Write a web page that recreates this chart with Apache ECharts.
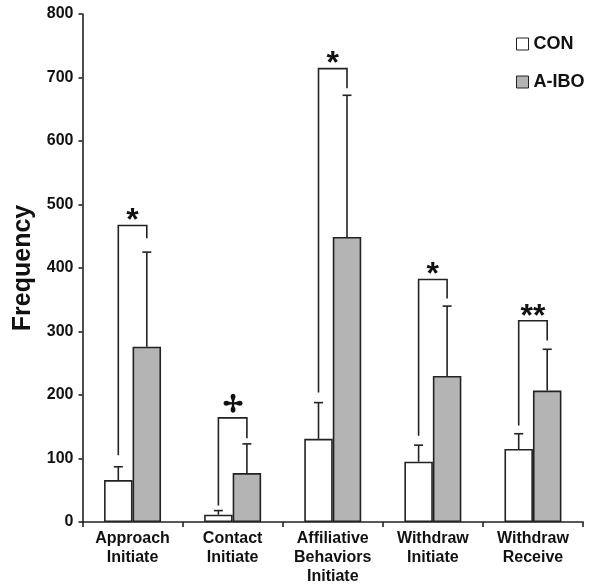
<!DOCTYPE html>
<html><head><meta charset="utf-8">
<script src="https://cdn.jsdelivr.net/npm/echarts@6/dist/echarts.min.js"></script>
<style>html,body{margin:0;padding:0;background:#fff}#c{width:600px;height:587px}</style>
</head><body><div id="c"></div>
<script>
// ---- data ----
const categories = ['Approach\nInitiate', 'Contact\nInitiate', 'Affiliative\nBehaviors\nInitiate', 'Withdraw\nInitiate', 'Withdraw\nReceive'];
const seriesNames = ['CON', 'A-IBO'];
const conMean = [66, 11.5, 131, 95, 115];
const conErrTop = [87, 18, 188, 121, 139];
const iboMean = [276, 77, 449, 230, 207];
const iboErrTop = [425, 123, 672, 340, 272];
const bracketTop = [467, 164, 714, 382, 317];
const bracketLeftEnd = [105, 26, 204, 136, 152];
const bracketRightEnd = [447, 132, 683, 352, 286];
const sigLabels = ['*', '\u2722', '*', '*', '**'];
const yMin = 0, yMax = 800, yInterval = 100;

// ---- styles ----
const FONT = "Arial, 'Liberation Sans', sans-serif";
const BAR_W = 28.5;
const LINE = '#222';
const IBO_FILL = '#b4b4b4';

const chart = echarts.init(document.getElementById('c'), null, {renderer: 'canvas'});

const errData = [];
categories.forEach((c, i) => {
  errData.push([i, conMean[i], conErrTop[i], -1]);
  errData.push([i, iboMean[i], iboErrTop[i], 1]);
});
const brData = categories.map((c, i) => [i, bracketTop[i], bracketLeftEnd[i], bracketRightEnd[i], i]);

function renderErr(params, api) {
  const p0 = api.coord([api.value(0), api.value(1)]);
  const p1 = api.coord([api.value(0), api.value(2)]);
  const x = p0[0] + api.value(3) * BAR_W / 2;
  const st = {stroke: LINE, lineWidth: 1.6};
  return {type: 'group', children: [
    {type: 'line', shape: {x1: x, y1: p0[1], x2: x, y2: p1[1]}, style: st},
    {type: 'line', shape: {x1: x - 4.5, y1: p1[1], x2: x + 4.5, y2: p1[1]}, style: st}
  ]};
}
function renderBracket(params, api) {
  const i = api.value(0);
  const top = api.coord([i, api.value(1)]);
  const l = api.coord([i, api.value(2)]);
  const r = api.coord([i, api.value(3)]);
  const xl = top[0] - BAR_W / 2, xr = top[0] + BAR_W / 2;
  const st = {stroke: LINE, lineWidth: 1.6, fill: null};
  const lab = sigLabels[api.value(4)];
  const isDag = lab !== '*' && lab !== '**';
  return {type: 'group', children: [
    {type: 'polyline', shape: {points: [[xl, l[1]], [xl, top[1]], [xr, top[1]], [xr, r[1]]]}, style: st},
    {type: 'text', x: top[0], y: top[1] + (isDag ? 0 : 12), style: {
      text: lab, font: 'bold ' + (isDag ? 24 : 32) + 'px ' + FONT, fill: '#111',
      textAlign: 'center', textVerticalAlign: 'bottom'}}
  ]};
}

chart.setOption({
  animation: false,
  backgroundColor: '#fff',
  grid: {left: 82.5, right: 17, top: 14, bottom: 65, containLabel: false},
  legend: {
    orient: 'vertical', left: 511, top: 30, itemWidth: 12, itemHeight: 12, itemGap: 20, icon: 'rect',
    itemStyle: {borderWidth: 1},
    textStyle: {fontFamily: FONT, fontWeight: 'bold', fontSize: 18, color: '#111'},
    data: seriesNames
  },
  xAxis: {
    type: 'category', data: categories,
    axisLine: {lineStyle: {color: LINE, width: 1.6}},
    axisTick: {show: true, length: 5, lineStyle: {color: LINE, width: 1.6}},
    axisLabel: {interval: 0, margin: 7, fontFamily: FONT, fontWeight: 'bold', fontSize: 16, lineHeight: 19, color: '#111'}
  },
  yAxis: {
    type: 'value', min: yMin, max: yMax, interval: yInterval,
    name: 'Frequency', nameLocation: 'middle', nameGap: 45, nameRotate: 90,
    nameTextStyle: {fontFamily: FONT, fontWeight: 'bold', fontSize: 25, color: '#111'},
    splitLine: {show: false},
    axisLine: {show: true, lineStyle: {color: LINE, width: 1.6}},
    axisTick: {show: true, length: 4, lineStyle: {color: LINE, width: 1.6}},
    axisLabel: {margin: 9, fontFamily: FONT, fontWeight: 'bold', fontSize: 16, color: '#111'}
  },
  series: [
    {name: 'CON', type: 'bar', data: conMean, barWidth: BAR_W, barGap: '0%',
     itemStyle: {color: '#fff', borderColor: LINE, borderWidth: 1.6}},
    {name: 'A-IBO', type: 'bar', data: iboMean, barWidth: BAR_W, barGap: '0%',
     itemStyle: {color: IBO_FILL, borderColor: LINE, borderWidth: 1.6}},
    {type: 'custom', data: errData, renderItem: renderErr, z: 3, silent: true},
    {type: 'custom', data: brData, renderItem: renderBracket, z: 4, silent: true}
  ]
});
</script></body></html>
